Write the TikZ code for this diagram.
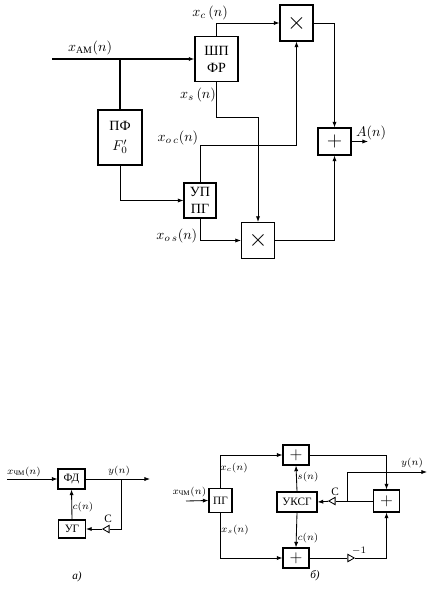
\documentclass[tikz,border=0pt]{standalone}
\usepackage{fontspec}
\setmainfont{Liberation Serif}
\usepackage{amsmath}
\usetikzlibrary{arrows.meta,shapes.geometric}

\begin{document}
\begin{tikzpicture}[x=0.025cm, y=-0.025cm, semithick, >={Latex[length=4pt,width=3pt]},
    blk/.style = {draw, thick, align=center, inner sep=0pt},
    mul/.style = {blk, minimum width=0.825cm, minimum height=0.9cm, font=\LARGE},
    sum/.style = {blk, minimum width=0.825cm, minimum height=0.675cm, font=\Large},
    bsum/.style = {blk, minimum width=0.65cm, minimum height=0.5cm, font=\large},
    sblk/.style = {blk, font=\footnotesize, minimum height=0.5cm},
    lbl/.style = {inner sep=1pt},
    slbl/.style = {inner sep=1pt, font=\scriptsize},
    amp/.style = {draw, fill=white, isosceles triangle, isosceles triangle apex angle=60, inner sep=0pt, minimum size=4.5pt}]
  \useasboundingbox (0,0) rectangle (434,589);

  % upper scheme
  \coordinate (in1) at (52,59);
  \coordinate (j1) at (120,59);
  \node[blk, minimum width=1.075cm, minimum height=1.125cm] (shp) at (216.5,59) {ШП\\ФР};
  \node[blk, minimum width=1.1cm, minimum height=1.375cm] (pf) at (120,137.5) {ПФ\\[2pt]$F'_0$};
  \node[blk, minimum width=0.8cm, minimum height=0.875cm] (up) at (200,200.5) {УП\\ПГ};
  \node[mul] (mA) at (296.5,23) {$\times$};
  \node[mul] (mB) at (258,240.5) {$\times$};
  \node[sum] (sA) at (334.5,141.5) {$+$};
  \coordinate (aout) at (368,141.5);

  \draw[thick] (in1) -- (j1);
  \draw[thick,->] (j1) -- (shp.west);
  \draw[thick] (j1) -- (pf.north);
  \draw[->] (pf.south) |- (up.west);
  \draw[->] (shp.north) |- (mA.west);
  \draw[->] (shp.south) -- ++(0,35) -| (mB.north);
  \draw[->] (up.north) -- ++(0,-37) -| (mA.south);
  \draw[->] (up.south) |- (mB.west);
  \draw[->] (mA.east) -| (sA.north);
  \draw[->] (mB.east) -| (sA.south);
  \draw[->] (sA.east) -- (aout);

  \node[lbl] (lam) at (90,48) {$x_{\text{АМ}}(n)$};
  \node[lbl] (lxc) at (210,13) {$x_c\,(n)$};
  \node[lbl] (lxs) at (198,95) {$x_s\,(n)$};
  \node[lbl, anchor=south east] (loc) at (200,147) {$x_{o\,c}(n)$};
  \node[lbl, anchor=east] (los) at (199,236) {$x_{o\,s}(n)$};
  \node[lbl] (la) at (371,133) {$A(n)$};

  % scheme a)
  \coordinate (in2) at (7,479);
  \coordinate (j2) at (121,479);
  \coordinate (out2) at (150,479);
  \node[sblk, minimum width=0.675cm] (fd) at (71.5,479) {ФД};
  \node[sblk, minimum width=0.675cm, minimum height=0.45cm] (ug) at (72,529) {УГ};
  \node[amp, shape border rotate=180] (a1) at (107,529) {};

  \draw[->] (in2) -- (fd.west);
  \draw[->] (fd.east) -- (out2);
  \draw (j2) |- (a1);
  \draw[->] (a1) -- (ug.east);
  \draw[->] (ug.north) -- (fd.south);

  \node[slbl] (lx2) at (24,472) {$x_{\text{ЧМ}}(n)$};
  \node[slbl] (ly2) at (119,471) {$y(n)$};
  \node[slbl] (lc2) at (83,507) {$c(n)$};
  \node[lbl, font=\footnotesize] (lC2) at (108,519) {С};
  \node[lbl, font=\footnotesize] (capa) at (77,577) {\textit{а)}};

  % scheme b)
  \coordinate (in3) at (186,501);
  \coordinate (j3) at (347,501);
  \coordinate (out3) at (427,472);
  \node[sblk, minimum width=0.575cm, minimum height=0.6cm] (pg) at (220.5,500.5) {ПГ};
  \node[bsum] (sU) at (296,455) {$+$};
  \node[sblk, minimum width=1cm] (uk) at (297,502) {УКСГ};
  \node[bsum] (sL) at (296,558) {$+$};
  \node[bsum, minimum height=0.55cm] (sR) at (386.5,501) {$+$};
  \node[amp, shape border rotate=180] (a2) at (333,501) {};
  \node[amp] (a3) at (350,558) {};

  \draw[->] (in3) -- (pg.west);
  \draw[->] (pg.north) |- (sU.west);
  \draw[->] (pg.south) |- (sL.west);
  \draw[->] (uk.north) -- (sU.south);
  \draw[->] (uk.south) -- (sL.north);
  \draw[->] (sU.east) -| (sR.north);
  \draw (sR.west) -- (j3);
  \draw (j3) -- (a2);
  \draw[->] (a2) -- (uk.east);
  \draw[->] (j3) |- (out3);
  \draw (sL.east) -- (a3);
  \draw[->] (a3) -| (sR.south);

  \node[slbl, anchor=east] (lx3) at (208,492) {$x_{\text{ЧМ}}(n)$};
  \node[slbl] (lxc3) at (234,468) {$x_c(n)$};
  \node[slbl] (lxs3) at (235,530) {$x_s(n)$};
  \node[slbl] (ls3) at (308,477) {$s(n)$};
  \node[slbl] (lc3) at (308,538) {$c(n)$};
  \node[lbl, font=\footnotesize] (lC3) at (335,492) {С};
  \node[slbl] (lm1) at (359,551) {$-1$};
  \node[slbl] (ly3) at (412,463) {$y(n)$};
  \node[lbl, font=\footnotesize] (capb) at (315,576) {\textit{б)}};
\end{tikzpicture}
\end{document}
